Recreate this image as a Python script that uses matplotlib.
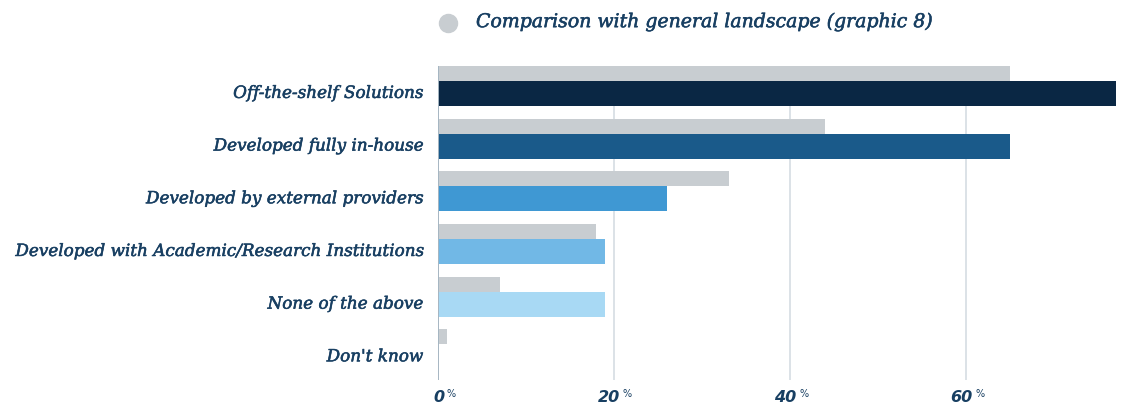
import numpy as np
import matplotlib
matplotlib.use('Agg')
import matplotlib.pyplot as plt
import matplotlib.patheffects as pe

categories = ['Off-the-shelf Solutions', 'Developed fully in-house', 'Developed by external providers',
              'Developed with Academic/Research Institutions', 'None of the above', "Don't know"]
values = [77, 65, 26, 19, 19, 0]
landscape = [65, 44, 33, 18, 7, 1]
bar_colors = ['#0a2744', '#1a5a8a', '#3f98d3', '#71b8e6', '#a8d9f4', '#a8d9f4']
ticks = [0, 20, 40, 60]

text_color = '#183f62'
gray = '#c8cdd1'
font = 'DejaVu Serif'
# thicken the regular italic a little
heavy = [pe.withStroke(linewidth=0.4, foreground=text_color)]

fig = plt.figure(figsize=(11.34, 4.07), dpi=100)
ax = fig.add_axes([438 / 1134, 1 - 380 / 407, 678 / 1134, 314 / 407])

y = np.arange(len(categories))
ax.barh(y, values, height=0.475, color=bar_colors, zorder=3)
ax.barh(y - 0.38, landscape, height=0.285, color=gray, zorder=3)

ax.set_xlim(0, 77)
ax.set_ylim(5.44, -0.52)

for t in ticks[1:]:
    ax.axvline(t, color='#d6dde3', lw=1.2, zorder=1)
ax.axvline(0, color='#a6b6c2', lw=1.4, zorder=4)

for s in ax.spines.values():
    s.set_visible(False)
ax.set_xticks([])
ax.set_yticks([])

# category labels, right aligned against the axis
for yi, name in zip(y, categories):
    ax.text(-1.7, yi, name, ha='right', va='center', fontsize=12.1, style='italic',
            family=font, color=text_color, path_effects=heavy)

# percentage ticks with a small % sign
xt = ax.get_xaxis_transform()
for t in ticks:
    ax.text(t + 0.7, -17 / 314, str(t), transform=xt, ha='right', va='center',
            fontsize=11.5, style='italic', weight='bold', family='DejaVu Sans', color=text_color, clip_on=False)
    ax.text(t + 1.0, -14 / 314, '%', transform=xt, ha='left', va='center',
            fontsize=7, family='DejaVu Sans', color=text_color, clip_on=False)

# legend
fig.lines.append(plt.Line2D([448 / 1134], [1 - 23 / 407], marker='o', markersize=13, color=gray,
                            transform=fig.transFigure))
fig.text(476 / 1134, 1 - 22 / 407, 'Comparison with general landscape (graphic 8)', ha='left', va='center',
         fontsize=13.6, style='italic', family=font, color=text_color, path_effects=heavy)

fig.savefig('out.png', dpi=100)
